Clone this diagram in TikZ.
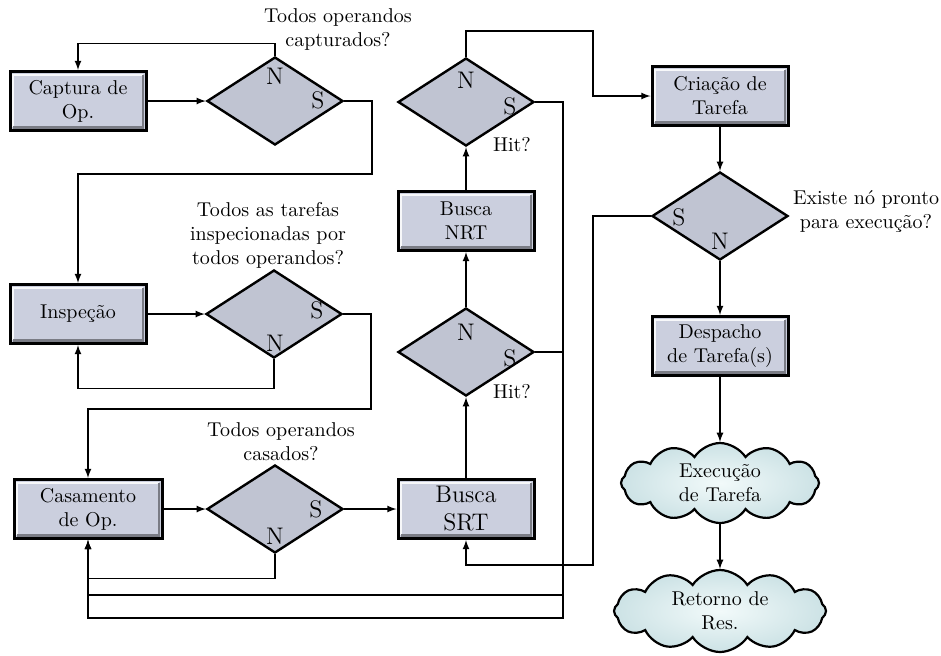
\documentclass[tikz,border=0pt]{standalone}
\usetikzlibrary{shapes.geometric,shapes.symbols,arrows}
\definecolor{boxfill}{RGB}{203,207,222}
\definecolor{diafill}{RGB}{192,196,210}
\definecolor{cloudin}{RGB}{242,250,250}
\definecolor{cloudout}{RGB}{204,226,229}
\tikzset{
	procbox/.style={rectangle, draw, line width=1.5pt, fill=boxfill, align=center,
		minimum width=68pt, minimum height=29.5pt, inner sep=2pt,
		path picture={
			\draw[white!85!boxfill, line width=1.2pt]
				([shift={(1.6pt,1.6pt)}]path picture bounding box.south west)
				|- ([shift={(-1.6pt,-1.6pt)}]path picture bounding box.north east);
			\draw[black!40!boxfill, line width=1.2pt]
				([shift={(1.6pt,1.6pt)}]path picture bounding box.south west)
				-| ([shift={(-1.6pt,-1.6pt)}]path picture bounding box.north east);
		}},
	decision/.style={diamond, draw, line width=1.2pt, fill=diafill,
		minimum width=68pt, minimum height=44pt, inner sep=0pt},
	resposta/.style={font=\large, inner sep=0pt},
	nuvem/.style={cloud, cloud puffs=12, cloud puff arc=115, cloud ignores aspect, draw, line width=1.1pt,
		inner color=cloudin, outer color=cloudout, align=center, inner sep=0pt},
	flow/.style={line width=0.6pt,-latex},
	pergunta/.style={align=center, inner sep=0pt},
}
\begin{document}
\begin{tikzpicture}[x=0.5pt,y=-0.5pt]
	\useasboundingbox (0,0) rectangle (941,655);

	% coluna da esquerda
	\node[procbox] (cap) at (78,101) {Captura de\\Op.};
	\node[decision] (d1) at (275,101) {};
	\node[resposta] (d1n) at ([shift={(0,-25)}]d1.center) {N};
	\node[resposta] (d1s) at ([shift={(43,-1)}]d1.center) {S};
	\node[pergunta] (q1) at (338,29) {Todos operandos\\capturados?};

	\node[procbox] (insp) at (78,314) {Inspeção};
	\node[decision] (d2) at (274,314) {};
	\node[resposta] (d2s) at ([shift={(43,-4)}]d2.center) {S};
	\node[resposta] (d2n) at ([shift={(1,29)}]d2.center) {N};
	\node[pergunta] (q2) at (268,235) {Todos as tarefas\\inspecionadas por\\todos operandos?};

	\node[procbox, minimum width=74pt] (cas) at (88,509) {Casamento\\de Op.};
	\node[decision] (d3) at (275,509) {};
	\node[resposta] (d3s) at ([shift={(41,0)}]d3.center) {S};
	\node[resposta] (d3n) at ([shift={(0,27)}]d3.center) {N};
	\node[pergunta] (q3) at (281,442) {Todos operandos\\casados?};

	% buscas
	\node[procbox, font=\large] (srt) at (466,509) {Busca\\SRT};
	\node[decision] (d4) at (466,352) {};
	\node[resposta] (d4n) at ([shift={(0,-20)}]d4.center) {N};
	\node[resposta] (d4s) at ([shift={(44,6)}]d4.center) {S};
	\node (hit2) at ([shift={(46,40)}]d4.center) {Hit?};
	\node[procbox] (nrt) at (466,221) {Busca\\NRT};
	\node[decision] (d5) at (466,102) {};
	\node[resposta] (d5n) at ([shift={(0,-22)}]d5.center) {N};
	\node[resposta] (d5s) at ([shift={(44,4)}]d5.center) {S};
	\node (hit1) at ([shift={(46,43)}]d5.center) {Hit?};

	% coluna da direita
	\node[procbox] (crt) at (720,96) {Criação de\\Tarefa};
	\node[decision] (d6) at (720,216) {};
	\node[resposta] (d6s) at ([shift={(-41,1)}]d6.center) {S};
	\node[resposta] (d6n) at ([shift={(0,25)}]d6.center) {N};
	\node[pergunta] (q6) at (866,212) {Existe nó pronto\\para execução?};
	\node[procbox] (desp) at (720,346) {Despacho\\de Tarefa(s)};
	\node[nuvem, minimum width=99pt, minimum height=40pt] (exe) at (720,483) {Execução\\de Tarefa};
	\node[nuvem, minimum width=106pt, minimum height=41pt] (ret) at (720,611) {Retorno de\\Res.};

	\coordinate (c1) at (372,174);
	\coordinate (c2) at (371,409);
	\coordinate (c3) at (593,31);
	\coordinate (c4) at (563,595);
	\coordinate (c5) at (563,618);
	\coordinate (c6) at (593,565);

	\draw[flow] (cap) -- (d1);
	\draw[flow] (d1.north) -- ++(0,-12) -| (cap.north);% N: volta
	\draw[flow] (d1.east) -| (c1) -| (insp.north);% S
	\draw[flow] (insp) -- (d2);
	\draw[flow] (d2.south) -- ++(0,29) -| (insp.south);
	\draw[flow] (d2.east) -| (c2) -| (cas.north);
	\draw[flow] (cas) -- (d3);
	\draw[flow] (d3.south) -- ++(0,24) -| (cas.south);
	\draw[flow] (d3) -- (srt);
	\draw[flow] (srt) -- (d4);
	\draw[flow] (d4) -- (nrt);
	\draw[flow] (nrt) -- (d5);
	\draw[flow] (d5.north) |- (c3) |- (crt.west);
	\draw[flow] (d4.east) -| (c4) -| (cas.south);
	\draw[flow] (d5.east) -| (c5) -| (cas.south);
	\draw[flow] (crt) -- (d6);
	\draw[flow] (d6.west) -| (c6) -| (srt.south);
	\draw[flow] (d6) -- (desp);
	\draw[flow] (desp) -- (exe);
	\draw[flow] (exe) -- (ret);
\end{tikzpicture}
\end{document}
